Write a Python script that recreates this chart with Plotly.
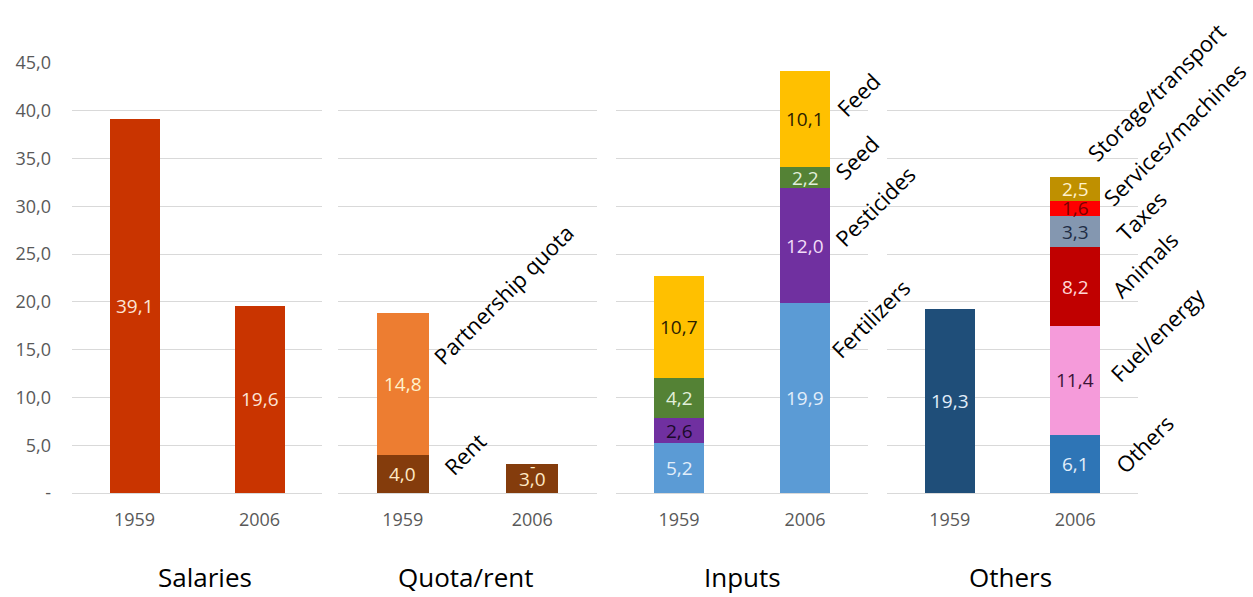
import plotly.graph_objects as go

# ---------------- data ----------------
categories = ["1959", "2006"]

salaries = [39.1, 19.6]

rent = [4.0, 3.0]
partnership_quota = [14.8, 0.0]

fertilizers = [5.2, 19.9]
pesticides = [2.6, 12.0]
seed = [4.2, 2.2]
feed = [10.7, 10.1]

others = [19.3, 6.1]
fuel_energy = [None, 11.4]
animals = [None, 8.2]
taxes = [None, 3.3]
services_machines = [None, 1.6]
storage_transport = [None, 2.5]

ytick_values = [0, 5, 10, 15, 20, 25, 30, 35, 40, 45]
panel_titles = ["Salaries", "Quota/rent", "Inputs", "Others"]

# ---------------- styles ----------------
W, H = 1253, 597
FONT = "Open Sans"
GRID = "#D9D9D9"
TICK_COLOR = "#595959"

# panel x extents in pixels
panel_px = [(72, 322), (338, 597), (616, 868), (887, 1138)]
title_cx_px = [205, 466, 742, 1010]
plot_top_px, plot_bottom_px = 63, 493
y_dom = [(H - plot_bottom_px) / H, (H - plot_top_px) / H]

# series: (name, values, bar colour(s), value-label colour, side label or None)
panels = [
    [("Salaries", salaries, "#C93400", "#FCE4D6", None)],
    [("Rent", rent, "#843C0C", "#FFE9C4", "Rent"),
     ("Partnership quota", partnership_quota, "#ED7D31", "#FFF2CC", "Partnership quota")],
    [("Fertilizers", fertilizers, "#5B9BD5", "#E2EEFA", "Fertilizers"),
     ("Pesticides", pesticides, "#7030A0", "#F2DDF8", "Pesticides"),
     ("Seed", seed, "#548235", "#E2EFDA", "Seed"),
     ("Feed", feed, "#FFC000", "#2B2100", "Feed")],
    [("Others", others, ["#1F4E79", "#2E75B6"], "#E2EEFA", "Others"),
     ("Fuel/energy", fuel_energy, "#F59BDA", "#3B1436", "Fuel/energy"),
     ("Animals", animals, "#C00000", "#FFD5D5", "Animals"),
     ("Taxes", taxes, "#8497B0", "#1F2D45", "Taxes"),
     ("Services/machines", services_machines, "#FF0000", "#7A0000", "Services/machines"),
     ("Storage/transport", storage_transport, "#BF9000", "#FFF2CC", "Storage/transport")],
]

# custom label colours for specific points (dark text on some segments)
point_label_colors = {("Pesticides", 0): "#1A0A2A"}

# side label offsets (dx from bar right edge, dy up from segment centre), pixels
label_offsets = {
    "Rent": (28, -10),
    "Partnership quota": (18, 11),
    "Feed": (19, -6),
    "Seed": (17, -10),
    "Pesticides": (17, -10),
    "Fertilizers": (14, 31),
    "Others": (27, -18),
    "Fuel/energy": (22, -10),
    "Animals": (24, -20),
    "Taxes": (29, -18),
    "Services/machines": (15, -6),
    "Storage/transport": (-1, 19),
}
LABEL_SIZE = 22
VALUE_SIZE = 19
BAR_HALF = 25
ROT_OFF = 0.707 * (LABEL_SIZE * 1.3 + 2)


def fmt(v):
    if v == 0:
        return "-"
    return f"{v:.1f}".replace(".", ",")


fig = go.Figure()
annotations = []

for i, series in enumerate(panels):
    sfx = "" if i == 0 else str(i + 1)
    xa, ya = "x" + sfx, "y" + sfx
    base = [0.0, 0.0]
    for name, vals, color, lcolor, side in series:
        yv = [v if v is not None else 0 for v in vals]
        fig.add_trace(go.Bar(
            x=categories, y=yv, name=name, marker=dict(color=color, line=dict(width=0)),
            xaxis=xa, yaxis=ya, showlegend=False, hoverinfo="skip",
        ))
        for j, v in enumerate(vals):
            if v is None:
                continue
            c = point_label_colors.get((name, j), lcolor)
            if v == 0:
                annotations.append(dict(
                    x=j, y=base[j], xref=xa, yref=ya, text="-",
                    showarrow=False, yshift=-1,
                    font=dict(family=FONT, size=VALUE_SIZE - 2, color=c)))
            else:
                annotations.append(dict(
                    x=j, y=base[j] + v / 2, xref=xa, yref=ya, text=fmt(v),
                    showarrow=False,
                    font=dict(family=FONT, size=VALUE_SIZE, color=c)))
        # side label on 2006 bar (or 1959 for quota panel)
        if side is not None:
            j = 0 if i == 1 else 1
            v = vals[j]
            dx, dy = label_offsets[side]
            annotations.append(dict(
                x=j, y=base[j] + (v or 0) / 2, xref=xa, yref=ya, text=side,
                showarrow=False, textangle=-45, xanchor="left", yanchor="bottom",
                xshift=BAR_HALF + dx - ROT_OFF, yshift=dy,
                font=dict(family=FONT, size=LABEL_SIZE, color="#000000")))
        base = [base[k] + yv[k] for k in range(2)]

    x0, x1 = panel_px[i]
    fig.update_layout(**{
        ("xaxis" + sfx): dict(
            type="category", range=[-0.5, 1.5], autorange=False,
            domain=[x0 / W, x1 / W], anchor=ya, showgrid=False,
            zeroline=False, showline=False, ticks="", automargin=False,
            tickfont=dict(family=FONT, size=18, color=TICK_COLOR),
            ticklabelstandoff=14, fixedrange=True),
        ("yaxis" + sfx): dict(
            domain=y_dom, anchor=xa, range=[0, 45], autorange=False, tickvals=ytick_values,
            ticktext=[fmt(v) for v in ytick_values], showticklabels=(i == 0),
            gridcolor=GRID, gridwidth=1, zeroline=True, zerolinecolor=GRID, zerolinewidth=1,
            showline=False, ticks="", ticklabelstandoff=20, automargin=False,
            tickfont=dict(family=FONT, size=18, color=TICK_COLOR), fixedrange=True),
    })
    annotations.append(dict(
        x=title_cx_px[i] / W, y=0, xref="paper", yref="paper",
        text=panel_titles[i], showarrow=False, xanchor="center", yanchor="bottom",
        yshift=0,
        font=dict(family=FONT, size=26, color="#000000")))

fig.update_layout(
    width=W, height=H, autosize=False,
    margin=dict(l=0, r=0, t=0, b=0, autoexpand=False),
    barmode="stack", bargap=0.6,
    paper_bgcolor="white", plot_bgcolor="white",
    annotations=annotations,
)

fig.write_html("out.html", config={"displayModeBar": False})
